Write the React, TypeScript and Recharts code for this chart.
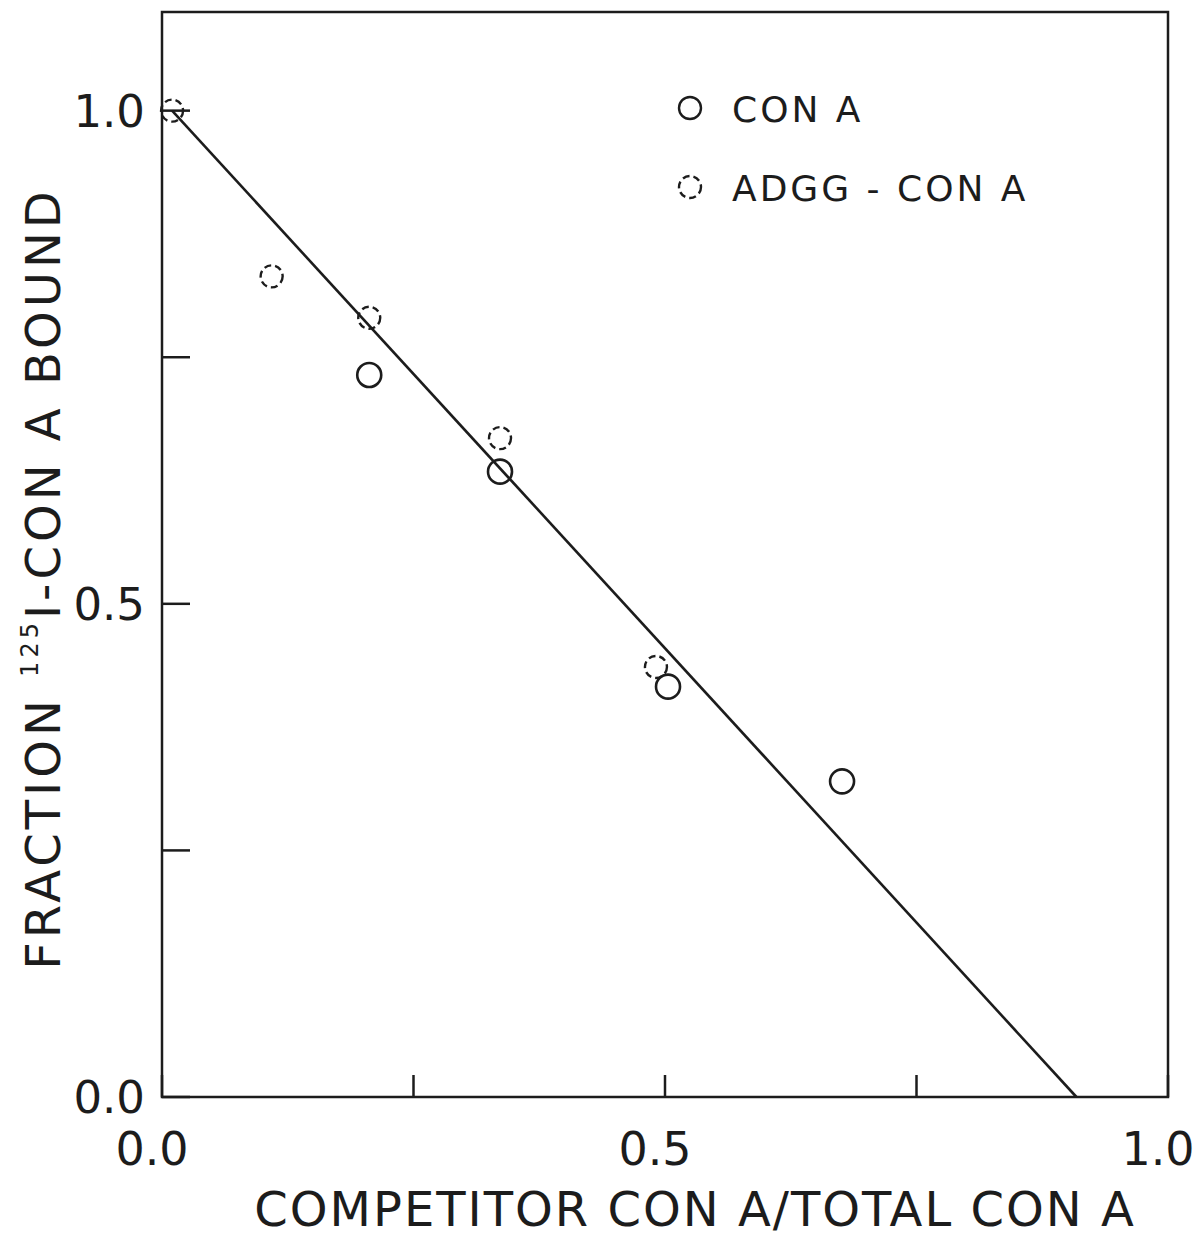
import React from "react";
import {
  ScatterChart,
  Scatter,
  XAxis,
  YAxis,
  ReferenceArea,
  ReferenceLine,
  Label,
} from "recharts";

// values
const conAX = [0.206, 0.336, 0.503, 0.676];
const conAY = [0.732, 0.634, 0.416, 0.32];
const adggX = [0.01, 0.109, 0.206, 0.336, 0.491];
const adggY = [1.0, 0.832, 0.79, 0.668, 0.436];
const fitX = [0.01, 0.909];
const fitY = [1.0, 0.0];
const xTicks = [0, 0.25, 0.5, 0.75, 1.0];
const yTicks = [0, 0.25, 0.5, 0.75, 1.0];
const labelledTicks = [0, 0.5, 1.0];
const seriesNames = ["CON A", "ADGG - CON A"];
const xTitle = "COMPETITOR CON A/TOTAL CON A";

const FONT = "'DejaVu Sans', sans-serif";
const INK = "#1c1c1c";

function tickText(v: number): string {
  return labelledTicks.includes(v) ? v.toFixed(1) : "";
}

function OpenCircle(props: any) {
  const { cx, cy } = props;
  return <circle cx={cx} cy={cy} r={12} fill="none" stroke={INK} strokeWidth={2.6} />;
}

function DashedCircle(props: any) {
  const { cx, cy } = props;
  return (
    <circle
      cx={cx}
      cy={cy}
      r={11}
      fill="none"
      stroke={INK}
      strokeWidth={2.4}
      strokeDasharray="7 4"
    />
  );
}

function YTitle(props: any) {
  const vb = props.viewBox || { x: 0, y: 12, width: 162, height: 1085 };
  const x = vb.x + 60;
  const y = vb.y + vb.height / 2 + 24;
  return (
    <text
      x={x}
      y={y}
      transform={`rotate(-90, ${x}, ${y})`}
      textAnchor="middle"
      fontFamily={FONT}
      fontSize={48}
      fill={INK}
      letterSpacing={4}
    >
      <tspan>FRACTION </tspan>
      <tspan fontSize={24} dy={-22}>125</tspan>
      <tspan dy={22}>I-CON A BOUND</tspan>
    </text>
  );
}

export default function App() {
  const conA = conAX.map((x, i) => ({ x, y: conAY[i] }));
  const adgg = adggX.map((x, i) => ({ x, y: adggY[i] }));

  return (
    <div style={{ position: "relative", width: 1195, height: 1238, background: "#fff" }}>
      <style>{"body{margin:0;background:#fff}"}</style>
      <ScatterChart
        width={1195}
        height={1238}
        margin={{ top: 12, right: 27, bottom: 0, left: 0 }}
      >
        <XAxis
          type="number"
          dataKey="x"
          domain={[0, 1]}
          ticks={xTicks}
          tickFormatter={tickText}
          axisLine={false}
          tickLine={{ stroke: INK, strokeWidth: 2.5 }}
          tickSize={-22}
          tickMargin={57}
          height={141}
          tick={{ fontSize: 46, fill: INK, fontFamily: FONT, dx: -10 }}
          interval={0}
        >
          <Label
            value={xTitle}
            position="insideBottom"
            offset={12}
            dx={30}
            style={{ fontSize: 48, fill: INK, fontFamily: FONT, letterSpacing: 2 }}
          />
        </XAxis>
        <YAxis
          type="number"
          dataKey="y"
          domain={[0, 1.1]}
          ticks={yTicks}
          tickFormatter={tickText}
          axisLine={false}
          tickLine={{ stroke: INK, strokeWidth: 2.5 }}
          tickSize={-28}
          tickMargin={45}
          width={162}
          tick={{ fontSize: 45, fill: INK, fontFamily: FONT }}
          interval={0}
          label={<YTitle />}
        />
        <ReferenceArea
          x1={0}
          x2={1}
          y1={0}
          y2={1.1}
          fill="none"
          stroke={INK}
          strokeWidth={2.5}
          ifOverflow="extendDomain"
        />
        <ReferenceLine
          segment={[
            { x: fitX[0], y: fitY[0] },
            { x: fitX[1], y: fitY[1] },
          ]}
          stroke={INK}
          strokeWidth={2.6}
        />
        <Scatter
          name={seriesNames[0]}
          data={conA}
          shape={OpenCircle}
          isAnimationActive={false}
        />
        <Scatter
          name={seriesNames[1]}
          data={adgg}
          shape={DashedCircle}
          isAnimationActive={false}
        />
      </ScatterChart>

      {/* legend, top right inside the frame */}
      <svg
        width={420}
        height={140}
        style={{ position: "absolute", left: 670, top: 70 }}
      >
        <circle cx={20} cy={38} r={11} fill="none" stroke={INK} strokeWidth={2.4} />
        <text x={62} y={52} fontFamily={FONT} fontSize={36} fill={INK} letterSpacing={3}>
          {seriesNames[0]}
        </text>
        <circle
          cx={20}
          cy={117}
          r={11}
          fill="none"
          stroke={INK}
          strokeWidth={2.4}
          strokeDasharray="7 4"
        />
        <text x={62} y={131} fontFamily={FONT} fontSize={36} fill={INK} letterSpacing={3}>
          {seriesNames[1]}
        </text>
      </svg>
    </div>
  );
}
